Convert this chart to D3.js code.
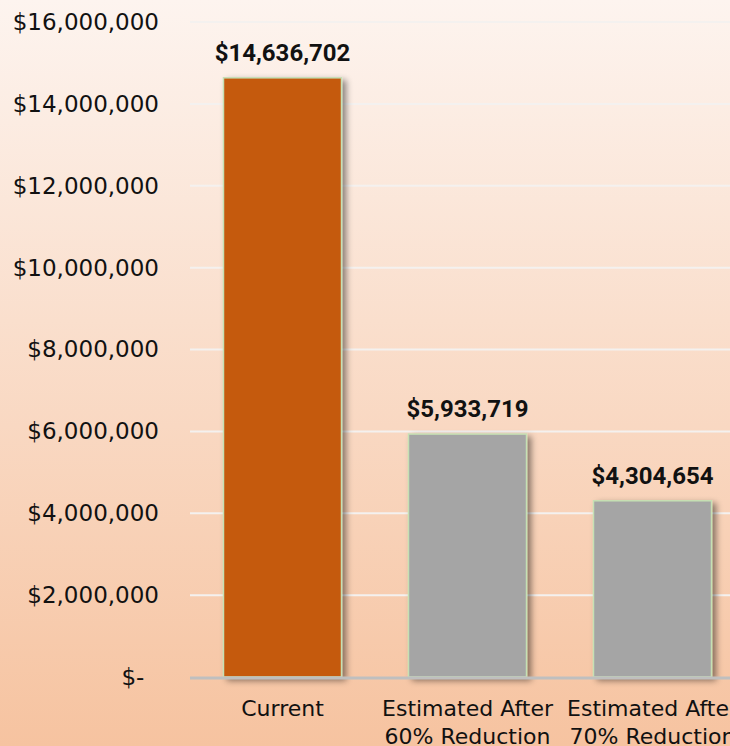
<!DOCTYPE html>
<html>
<head>
<meta charset="utf-8">
<script src="https://cdn.jsdelivr.net/npm/d3@7"></script>
<style>
  body { margin: 0; overflow: hidden; }
  svg { display: block; }
</style>
</head>
<body>
<div class="graph_bars"></div>
<script>
// chart data
const categories = ["Current", "Estimated After 60% Reduction", "Estimated After 70% Reduction"];
const categoryLines = [["Current"], ["Estimated After", "60% Reduction"], ["Estimated After", "70% Reduction"]];
const costs = [14636702, 5933719, 4304654];
const barColors = ["#C55A11", "#A5A5A5", "#A5A5A5"];
const yTicks = [0, 2000000, 4000000, 6000000, 8000000, 10000000, 12000000, 14000000, 16000000];

function draw_bars(){
    const width = 730;
    const height = 746;
    const margin = {top: 22, bottom: 69, left: 190, right: -15};

    const svg = d3.select(".graph_bars").append("svg")
        .attr("width", width).attr("height", height);

    const defs = svg.append("defs");
    const grad = defs.append("linearGradient")
        .attr("id", "bg").attr("x1", 0).attr("y1", 0).attr("x2", 0).attr("y2", 1);
    grad.append("stop").attr("offset", "0%").attr("stop-color", "#FDF4EF");
    grad.append("stop").attr("offset", "100%").attr("stop-color", "#F6C3A0");

    const shadow = defs.append("filter").attr("id", "shadow")
        .attr("x", "-20%").attr("y", "-20%").attr("width", "150%").attr("height", "140%");
    shadow.append("feDropShadow")
        .attr("dx", 4).attr("dy", 3).attr("stdDeviation", 3)
        .attr("flood-color", "#000").attr("flood-opacity", 0.45);

    svg.append("rect").attr("width", width).attr("height", height).attr("fill", "url(#bg)");

    const x = d3.scaleBand()
        .domain(categories)
        .range([margin.left, width - margin.right])
        .paddingInner(0.362)
        .paddingOuter(0.181);

    const y = d3.scaleLinear()
        .domain([0, 16000000])
        .range([height - margin.bottom, margin.top]);

    // gridlines
    svg.append("g")
        .selectAll("line")
        .data(yTicks.filter(d => d > 0))
        .join("line")
        .attr("x1", margin.left)
        .attr("x2", width)
        .attr("y1", d => y(d))
        .attr("y2", d => y(d))
        .attr("stroke", "#F4F1EF")
        .attr("stroke-width", 2);

    // y axis labels
    const yAxis = d3.axisLeft(y)
        .tickValues(yTicks)
        .tickSize(0)
        .tickPadding(31)
        .tickFormat(d => d === 0 ? "$-\u00a0\u00a0" : d3.format("$,")(d));
    const yG = svg.append("g").attr("transform", `translate(${margin.left}, 0)`).call(yAxis);
    yG.select(".domain").remove();
    yG.selectAll("text")
        .attr("font-family", "DejaVu Sans, sans-serif")
        .attr("font-size", 23)
        .attr("fill", "#111");

    // bars
    svg.append("g")
        .selectAll("rect")
        .data(costs)
        .join("rect")
        .attr("x", (d, i) => x(categories[i]))
        .attr("y", d => y(d))
        .attr("width", x.bandwidth())
        .attr("height", d => y(0) - y(d))
        .attr("fill", (d, i) => barColors[i])
        .attr("stroke", "#C5E0B4")
        .attr("stroke-width", 1.5)
        .attr("filter", "url(#shadow)");

    // baseline
    svg.append("line")
        .attr("x1", margin.left).attr("x2", width)
        .attr("y1", y(0) + 1).attr("y2", y(0) + 1)
        .attr("stroke", "#BFBFBF")
        .attr("stroke-width", 3);

    // value labels
    svg.append("g")
        .selectAll("text")
        .data(costs)
        .join("text")
        .attr("x", (d, i) => x(categories[i]) + x.bandwidth() / 2)
        .attr("y", d => y(d) - 17)
        .attr("text-anchor", "middle")
        .attr("font-family", "Roboto, sans-serif")
        .attr("font-weight", "bold")
        .attr("font-size", 24)
        .attr("fill", "#111")
        .text(d => d3.format("$,")(d));

    // category labels
    svg.append("g")
        .selectAll("text")
        .data(categories)
        .join("text")
        .attr("x", d => x(d) + x.bandwidth() / 2)
        .attr("y", y(0) + 39)
        .attr("text-anchor", "middle")
        .attr("font-family", "DejaVu Sans, sans-serif")
        .attr("font-size", 22)
        .attr("fill", "#111")
        .each(function(d, i){
            d3.select(this).selectAll("tspan")
                .data(categoryLines[i])
                .join("tspan")
                .attr("x", x(d) + x.bandwidth() / 2)
                .attr("dy", (t, j) => j === 0 ? 0 : 28)
                .text(t => t);
        });

    return svg.node();
}
draw_bars();
</script>
</body>
</html>
